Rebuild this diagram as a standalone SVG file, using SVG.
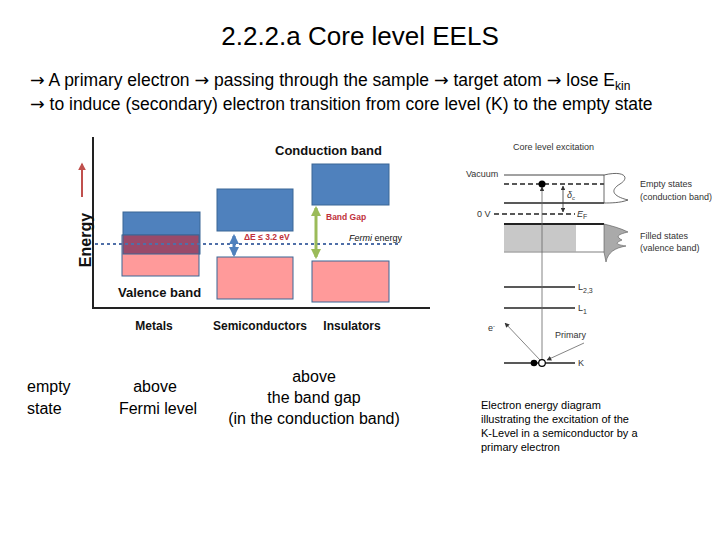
<svg xmlns="http://www.w3.org/2000/svg" width="720" height="540" viewBox="0 0 720 540">
<style>
text{font-family:"Liberation Sans",Arial,sans-serif}
.b{font-weight:bold;font-size:13px;fill:#111}
.s{font-size:9px;fill:#333}
.big{font-size:16px;fill:#000}
.hd{font-size:17.5px;fill:#000}
.red{fill:#c0303a;font-size:8.5px;font-weight:bold}
.blue{fill:#4f81bd;stroke:#3a6696;stroke-width:1}
.pink{fill:#ff9a9a;stroke:#3a6696;stroke-width:1}
.ln{stroke:#222;stroke-width:1.3}
.ds{stroke:#222;stroke-width:1.3;stroke-dasharray:5,3}
</style>
<defs>
<marker id="ah" viewBox="0 0 10 10" refX="9" refY="5" markerWidth="6" markerHeight="6" orient="auto-start-reverse"><path d="M0,0L10,5L0,10z" fill="#333"/></marker>
<marker id="bh" viewBox="0 0 10 10" refX="8" refY="5" markerWidth="3.5" markerHeight="3.5" orient="auto-start-reverse"><path d="M0,0L10,5L0,10z" fill="#4f81bd"/></marker>
<marker id="gh" viewBox="0 0 10 10" refX="8" refY="5" markerWidth="3.5" markerHeight="3.5" orient="auto-start-reverse"><path d="M0,0L10,5L0,10z" fill="#9bbb59"/></marker>
<marker id="rh" viewBox="0 0 10 10" refX="8" refY="5" markerWidth="4" markerHeight="4" orient="auto"><path d="M0,0L10,5L0,10z" fill="#c0504d"/></marker>
</defs>
<text x="360" y="45" font-size="26" text-anchor="middle">2.2.2.a Core level EELS</text>
<text x="30" y="86" class="hd"><tspan font-family="DejaVu Sans">→</tspan> A primary electron <tspan font-family="DejaVu Sans">→</tspan> passing through the sample <tspan font-family="DejaVu Sans">→</tspan> target atom <tspan font-family="DejaVu Sans">→</tspan> lose E<tspan font-size="12" dy="4">kin</tspan></text>
<text x="30" y="110" class="hd"><tspan font-family="DejaVu Sans">→</tspan> to induce (secondary) electron transition from core level (K) to the empty state</text>

<g id="band-diagram">
<path d="M93,137V308H430" fill="none" stroke="#222" stroke-width="2"/>
<line x1="82" y1="197" x2="82" y2="164" stroke="#c0504d" stroke-width="2" marker-end="url(#rh)"/>
<text x="91" y="240" style="font-size:16px;font-weight:bold;fill:#111" transform="rotate(-90 91 240)" text-anchor="middle">Energy</text>
<rect x="123" y="212" width="77" height="42" class="blue"/>
<rect x="122" y="235" width="77" height="41" class="pink"/>
<rect x="123" y="235" width="76" height="19" fill="#9a4a6a" stroke="#3a6696"/>
<rect x="217" y="189" width="76" height="42" class="blue"/>
<rect x="217" y="257" width="76" height="42" class="pink"/>
<rect x="312" y="164" width="77" height="41" class="blue"/>
<rect x="312" y="261" width="77" height="41" class="pink"/>
<line x1="95" y1="244" x2="400" y2="244" stroke="#4f6fa8" stroke-width="2" stroke-dasharray="3,3"/>
<line x1="234" y1="236" x2="234" y2="255" stroke="#4f81bd" stroke-width="3" marker-start="url(#bh)" marker-end="url(#bh)"/>
<line x1="316" y1="208" x2="316" y2="257" stroke="#9bbb59" stroke-width="3" marker-start="url(#gh)" marker-end="url(#gh)"/>
<text x="244" y="240" class="red">ΔE ≤ 3.2 eV</text>
<text x="326" y="220" class="red">Band Gap</text>
<text x="349" y="241" style="font-size:9px;fill:#111"><tspan font-style="italic">Fermi</tspan> energy</text>
<text x="275" y="155" class="b">Conduction band</text>
<text x="118" y="297" class="b">Valence band</text>
<text x="154" y="330" class="b" text-anchor="middle" style="font-size:12px">Metals</text>
<text x="260" y="330" class="b" text-anchor="middle" style="font-size:12px">Semiconductors</text>
<text x="352" y="330" class="b" text-anchor="middle" style="font-size:12px">Insulators</text>
</g>

<g id="excitation-diagram">
<text x="513" y="150" class="s">Core  level excitation</text>
<text x="466" y="177" class="s">Vacuum</text>
<line x1="504" y1="175" x2="604" y2="175" stroke="#444" stroke-width="1"/>
<line x1="504" y1="184" x2="604" y2="184" class="ds"/>
<line x1="504" y1="203" x2="604" y2="203" class="ln"/>
<line x1="604" y1="175" x2="604" y2="203" stroke="#444" stroke-width="0.8"/>
<path d="M604,175C625,170 630,178 620,184C610,190 612,196 628,200C620,203 610,203 604,203" fill="none" stroke="#444" stroke-width="0.8"/>
<text x="477" y="217" class="s">0 V</text>
<line x1="494" y1="214" x2="575" y2="214" class="ds"/>
<text x="577" y="217" class="s" font-style="italic">E<tspan font-size="7" dy="2" font-style="normal">F</tspan></text>
<line x1="563" y1="186" x2="563" y2="212" stroke="#333" stroke-width="0.8" marker-start="url(#ah)" marker-end="url(#ah)"/>
<text x="567" y="198" class="s" font-style="italic">δ<tspan font-size="6" dy="2">c</tspan></text>
<rect x="504" y="224" width="72" height="28" fill="#c8c8c8"/>
<line x1="504" y1="224" x2="604" y2="224" stroke="#222" stroke-width="2"/>
<line x1="504" y1="252" x2="604" y2="252" stroke="#aaa" stroke-width="1.5"/>
<path d="M604,224C612,226 620,228 628,232C620,234 614,236 622,240C618,242 612,244 626,246C615,248 608,252 606,262L604,252z" fill="#aaa" stroke="#555" stroke-width="0.6"/>
<text x="640" y="187" class="s">Empty  states</text>
<text x="640" y="200" class="s">(conduction band)</text>
<text x="640" y="239" class="s">Filled states</text>
<text x="640" y="251" class="s">(valence band)</text>
<line x1="504" y1="287" x2="575" y2="287" class="ln"/>
<text x="578" y="290" class="s">L<tspan font-size="7" dy="3">2,3</tspan></text>
<line x1="504" y1="308" x2="575" y2="308" class="ln"/>
<text x="578" y="311" class="s">L<tspan font-size="7" dy="3">1</tspan></text>
<line x1="504" y1="363" x2="575" y2="363" class="ln"/>
<text x="578" y="366" class="s">K</text>
<line x1="542" y1="360" x2="542" y2="187" stroke="#666" stroke-width="0.8" marker-end="url(#ah)"/>
<circle cx="542" cy="184" r="3.5" fill="#000"/>
<line x1="540" y1="360" x2="505" y2="323" stroke="#666" stroke-width="0.8" marker-end="url(#ah)"/>
<text x="488" y="331" class="s">e<tspan font-size="6" dy="-3">-</tspan></text>
<text x="555" y="338" class="s">Primary</text>
<line x1="584" y1="343" x2="547" y2="360" stroke="#666" stroke-width="0.8" marker-end="url(#ah)"/>
<circle cx="534" cy="363" r="3.3" fill="#000"/>
<circle cx="542" cy="363" r="3.3" fill="#fff" stroke="#000" stroke-width="1.2"/>
</g>

<g id="captions">
<text x="27" y="392" class="big">empty</text>
<text x="27" y="414" class="big">state</text>
<text x="155" y="392" class="big" text-anchor="middle">above</text>
<text x="158" y="414" class="big" text-anchor="middle">Fermi level</text>
<text x="314" y="382" class="big" text-anchor="middle">above</text>
<text x="314" y="403" class="big" text-anchor="middle">the band gap</text>
<text x="314" y="424" class="big" text-anchor="middle">(in the conduction band)</text>
<text x="481" y="409" style="font-size:11px">Electron energy diagram</text>
<text x="481" y="423" style="font-size:11px">illustrating the excitation of the</text>
<text x="481" y="437" style="font-size:11px">K-Level in a semiconductor by a</text>
<text x="481" y="451" style="font-size:11px">primary electron</text>
</g>
</svg>
